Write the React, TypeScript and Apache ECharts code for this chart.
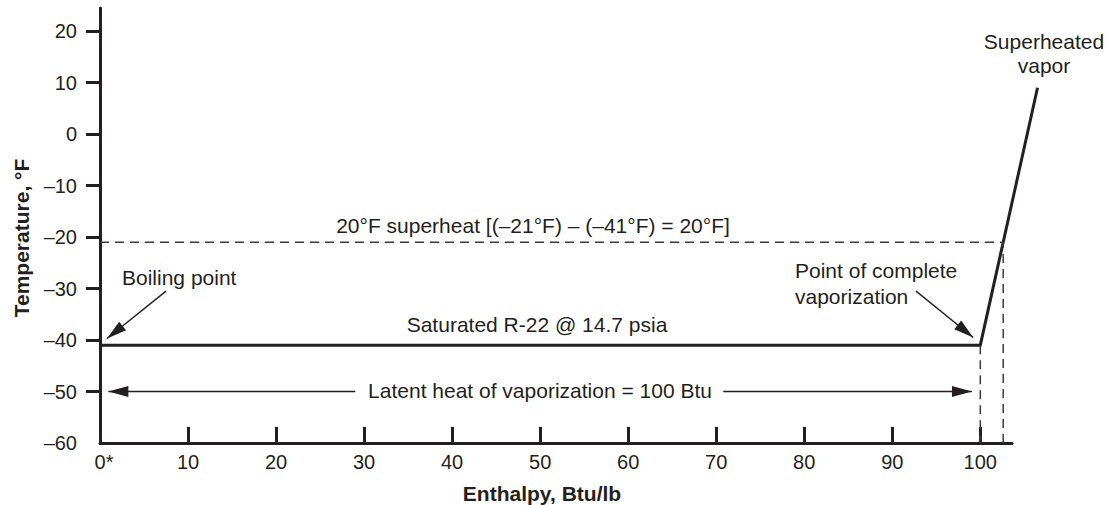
import React, { useEffect, useRef } from 'react';
import * as echarts from 'echarts';

// ---- data ----
const xTickValues = [0, 10, 20, 30, 40, 50, 60, 70, 80, 90, 100];
const yTickValues = [-60, -50, -40, -30, -20, -10, 0, 10, 20];
const xRange = [0, 103.6];
const yRange = [-60, 24.5];

// enthalpy (Btu/lb), temperature (°F)
const processCurve = [
  [0, -41],
  [100, -41],
  [106.5, 9],
];
const superheatGuide = [
  [0, -21],
  [102.6, -21],
  [102.6, -60],
];
const vaporizationGuide = [
  [100, -41],
  [100, -60],
];

// annotation arrows: [from, tip]
const boilingArrow = [[7.5, -30.5], [0.8, -39.7]];
const vaporizationArrow = [[92.7, -30.5], [99.2, -39.5]];
const latentLeftArrow = [[29.0, -50], [0.95, -50]];
const latentRightArrow = [[70.8, -50], [99.05, -50]];

const xTitle = 'Enthalpy, Btu/lb';
const yTitle = 'Temperature, °F';
const labelSuperheated = ['Superheated', 'vapor'];
const labelSuperheat = '20°F superheat [(–21°F) – (–41°F) = 20°F]';
const labelSaturated = 'Saturated R-22 @ 14.7 psia';
const labelBoiling = 'Boiling point';
const labelComplete = ['Point of complete', 'vaporization'];
const labelLatent = 'Latent heat of vaporization = 100 Btu';

export default function App() {
  const ref = useRef<HTMLDivElement>(null);

  useEffect(() => {
    if (!ref.current) return;
    const chart = echarts.init(ref.current, null, { renderer: 'svg' });
    const ink = '#231f20';
    const font = '"Liberation Sans", Arial, Helvetica, sans-serif';

    const arrow = (pts: number[][]) => [
      { coord: pts[0], symbol: 'none' },
      { coord: pts[1], symbol: 'triangle', symbolSize: [11, 20], symbolOffset: [0, 10] },
    ];

    const txt = (
      text: string,
      x: number,
      y: number,
      align: string = 'center',
      extra: any = {}
    ) => ({
      type: 'text',
      x,
      y,
      silent: true,
      ...extra,
      style: {
        text,
        fill: ink,
        fontSize: 21,
        fontFamily: font,
        align,
        verticalAlign: 'middle',
        ...(extra.style || {}),
      },
    });

    chart.setOption({
      animation: false,
      backgroundColor: '#ffffff',
      grid: {
        left: 100,
        right: 97,
        top: 8,
        bottom: 62,
        containLabel: false,
        outerBoundsMode: 'none',
      },
      xAxis: {
        type: 'value',
        min: xRange[0],
        max: xRange[1],
        axisLine: { show: true, onZero: false, lineStyle: { color: ink, width: 3 } },
        axisTick: {
          show: true,
          inside: true,
          length: 16,
          lineStyle: { color: ink, width: 3 },
          customValues: xTickValues.filter((v) => v > 0),
        },
        axisLabel: {
          customValues: xTickValues,
          formatter: (v: number) => (v === 0 ? '{z|0*}' : String(v)),
          color: ink,
          fontSize: 20,
          fontFamily: font,
          margin: 9,
          rich: {
            z: { color: ink, fontSize: 20, fontFamily: font, padding: [0, 0, 0, 8] },
          },
        },
        splitLine: { show: false },
      },
      yAxis: {
        type: 'value',
        min: yRange[0],
        max: yRange[1],
        axisLine: { show: true, onZero: false, lineStyle: { color: ink, width: 3 } },
        axisTick: {
          show: true,
          inside: false,
          length: 14,
          lineStyle: { color: ink, width: 3 },
          customValues: yTickValues.filter((v) => v > -60),
        },
        axisLabel: {
          customValues: yTickValues,
          formatter: (v: number) => (v < 0 ? '–' + Math.abs(v) : String(v)),
          color: ink,
          fontSize: 20,
          fontFamily: font,
          margin: 23,
        },
        splitLine: { show: false },
      },
      series: [
        {
          type: 'line',
          data: superheatGuide,
          symbol: 'none',
          silent: true,
          clip: false,
          lineStyle: { color: '#3a3a3a', width: 1.5, type: [9, 6] },
        },
        {
          type: 'line',
          data: vaporizationGuide,
          symbol: 'none',
          silent: true,
          clip: false,
          lineStyle: { color: '#3a3a3a', width: 1.5, type: [9, 6] },
          markLine: {
            silent: true,
            animation: false,
            label: { show: false },
            emphasis: { disabled: true },
            lineStyle: { color: ink, width: 1.4, type: 'solid' },
            itemStyle: { color: ink },
            data: [
              arrow(boilingArrow),
              arrow(vaporizationArrow),
              arrow(latentLeftArrow),
              arrow(latentRightArrow),
            ],
          },
        },
        {
          type: 'custom',
          coordinateSystem: 'cartesian2d',
          data: processCurve,
          encode: { x: 0, y: 1 },
          clip: false,
          silent: true,
          renderItem: (params: any, api: any) => {
            if (params.dataIndex !== 0) return null;
            const pts = processCurve.map((p) => api.coord(p));
            return {
              type: 'polyline',
              shape: { points: pts },
              style: { stroke: ink, lineWidth: 3, fill: null, lineJoin: 'miter' },
            };
          },
        },
      ],
      graphic: [
        txt(labelSuperheated[0], 1044, 41),
        txt(labelSuperheated[1], 1044, 65),
        txt(labelSuperheat, 533, 225),
        txt(labelSaturated, 537, 324),
        txt(labelBoiling, 122, 277, 'left'),
        txt(labelComplete[0], 795, 270, 'left'),
        txt(labelComplete[1], 795, 296, 'left'),
        txt(labelLatent, 540, 390),
        txt(xTitle, 542, 493, 'center', { style: { fontWeight: 'bold' } }),
        txt(yTitle, 21, 238, 'center', { rotation: Math.PI / 2, style: { fontWeight: 'bold' } }),
      ],
    });

    return () => chart.dispose();
  }, []);

  return (
    <div
      ref={ref}
      style={{ position: 'fixed', left: 0, top: 0, width: 1109, height: 505, background: '#fff' }}
    />
  );
}
